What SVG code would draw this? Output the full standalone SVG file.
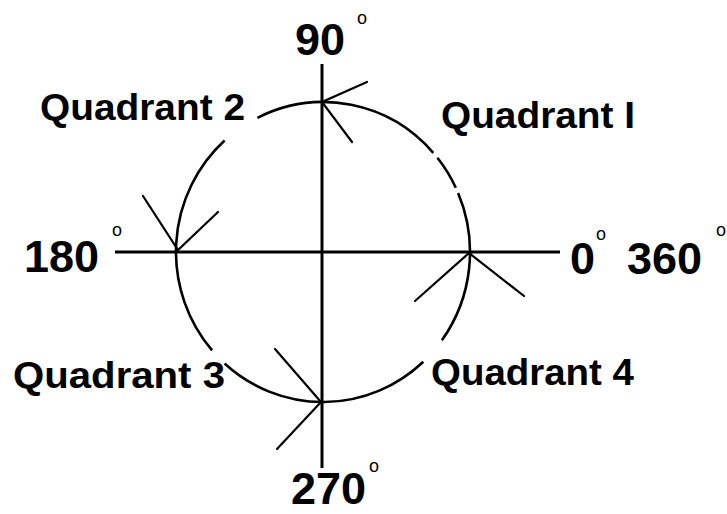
<svg xmlns="http://www.w3.org/2000/svg" width="727" height="514" viewBox="0 0 727 514">
<style>
.ax{stroke:#000;stroke-width:3;fill:none}
.circ{stroke:#000;stroke-width:2.6;fill:none}
.arr{stroke:#000;stroke-width:2.2;fill:none;stroke-linecap:round}
.num{font-family:"Liberation Sans",Arial,sans-serif;font-weight:bold;font-size:45px;fill:#000}
.deg{font-family:"Liberation Sans",Arial,sans-serif;font-size:18px;fill:#000}
.q{font-family:"Liberation Sans",Arial,sans-serif;font-weight:bold;font-size:37px;fill:#000}
</style>
<rect width="727" height="514" fill="#fff"/>
<g id="circle">
<path class="circ" d="M257.4,117.8 A147,150 0 0 1 433.3,152.8"/>
<path class="circ" d="M437.4,157.8 A147,150 0 0 1 455.8,187.7"/>
<path class="circ" d="M458.1,192.9 A147,150 0 0 1 441.9,340.2"/>
<path class="circ" d="M423.3,361.7 A147,150 0 0 1 224.6,363.5"/>
<path class="circ" d="M212.1,350.4 A147,150 0 0 1 224.6,140.5"/>
</g>
<g id="axes">
<line class="ax" x1="115" y1="252" x2="560" y2="252"/>
<line class="ax" x1="322" y1="64" x2="322" y2="468"/>
</g>
<g id="connectors">
<polyline class="arr" points="367,82 322,102 352,142"/>
<polyline class="arr" points="143,196 178,250 218,212"/>
<polyline class="arr" points="415,301 469,253 524,296"/>
<polyline class="arr" points="275,349 321,402 277,449"/>
</g>
<g id="label-90">
<text class="num" x="295" y="55">90</text>
<text class="deg" x="357" y="24">o</text>
</g>
<g id="label-180">
<text class="num" x="24" y="272">180</text>
<text class="deg" x="112" y="236">o</text>
</g>
<g id="label-0">
<text class="num" x="570" y="274">0</text>
<text class="deg" x="596" y="240">o</text>
</g>
<g id="label-360">
<text class="num" x="627" y="274">360</text>
<text class="deg" x="716" y="236">o</text>
</g>
<g id="label-270">
<text class="num" x="291" y="504">270</text>
<text class="deg" x="369" y="472">o</text>
</g>
<g id="quadrant-1"><text class="q" x="441" y="128" textLength="194" lengthAdjust="spacingAndGlyphs">Quadrant I</text></g>
<g id="quadrant-2"><text class="q" x="40" y="120" textLength="205" lengthAdjust="spacingAndGlyphs">Quadrant 2</text></g>
<g id="quadrant-3"><text class="q" x="13" y="388" textLength="212" lengthAdjust="spacingAndGlyphs">Quadrant 3</text></g>
<g id="quadrant-4"><text class="q" x="431" y="385" textLength="203" lengthAdjust="spacingAndGlyphs">Quadrant 4</text></g>
</svg>
